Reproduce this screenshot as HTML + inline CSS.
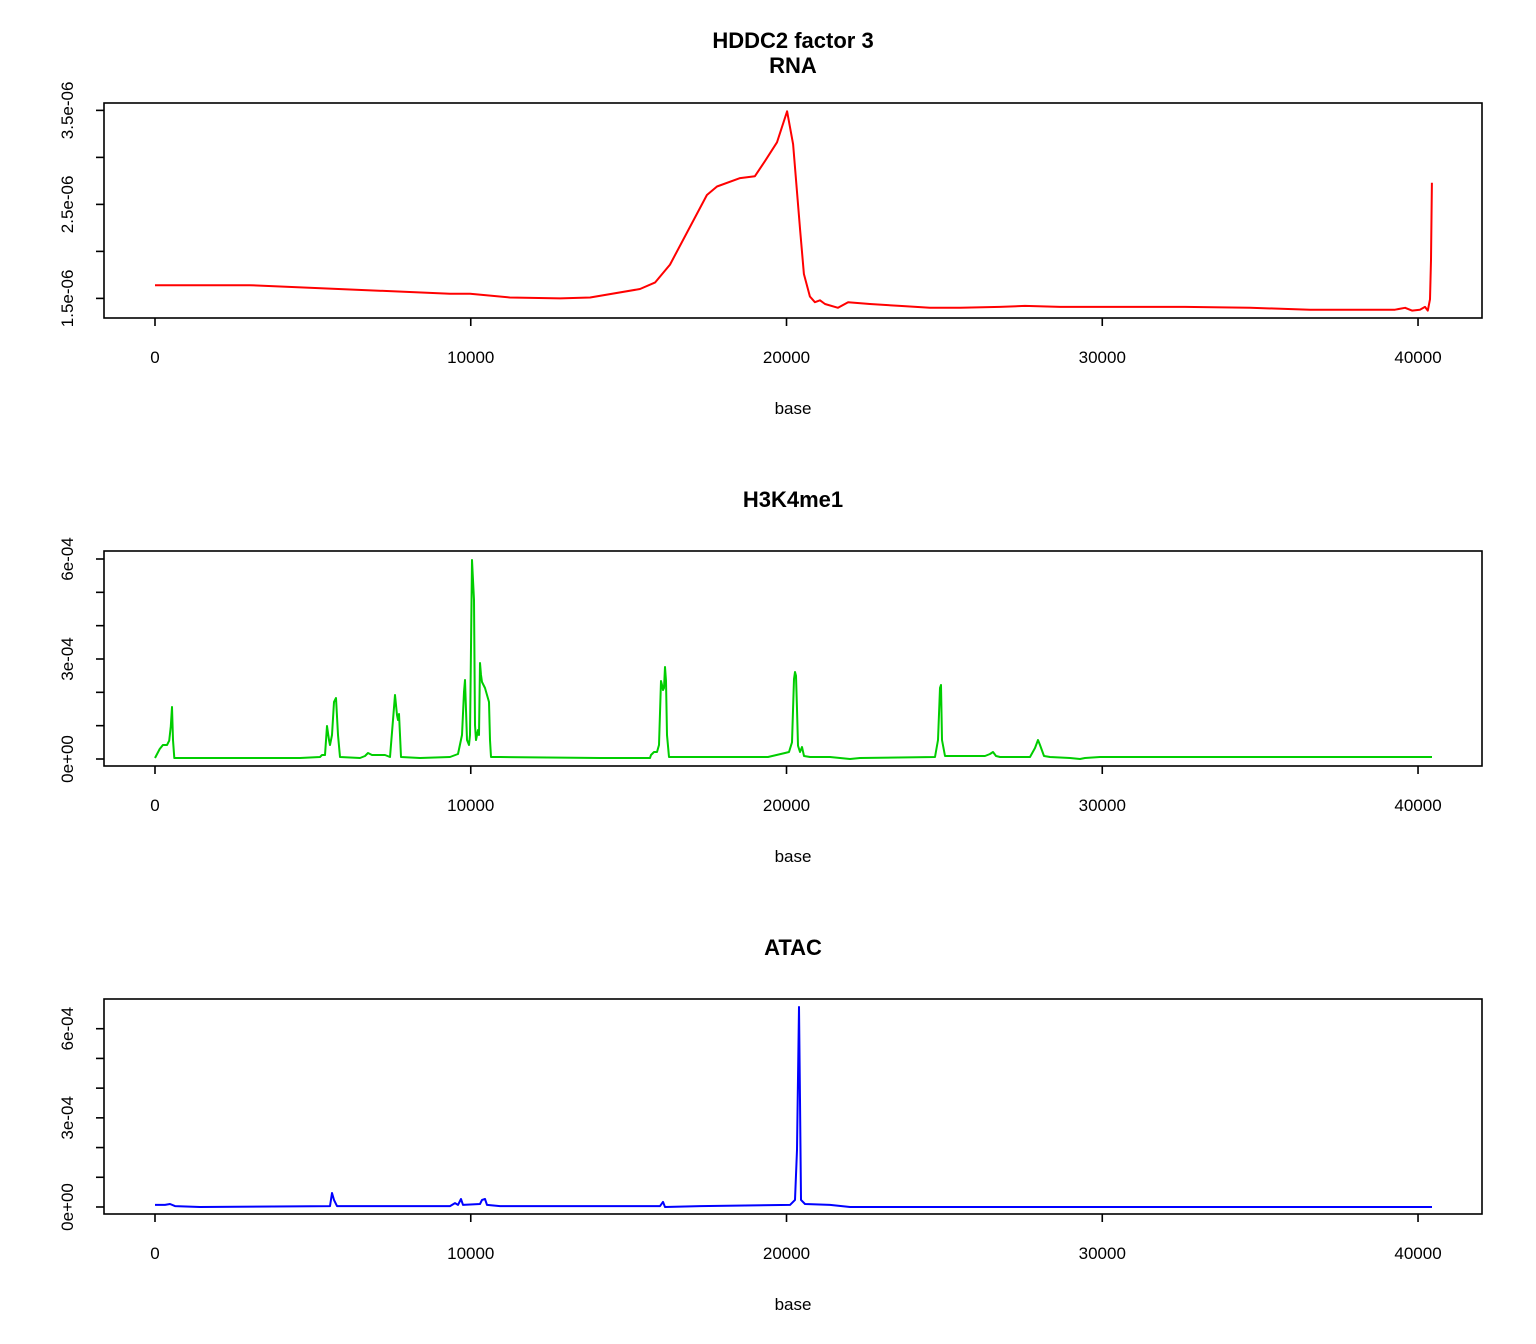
<!DOCTYPE html>
<html><head><meta charset="utf-8"><style>
html,body{margin:0;padding:0;background:#fff}
svg{display:block;font-family:"Liberation Sans",sans-serif}
</style></head><body>
<svg id="chart" width="1536" height="1344" viewBox="0 0 1536 1344">
<text x="793" y="48" text-anchor="middle" font-size="22" font-weight="bold">HDDC2 factor 3</text>
</svg>
<script>
// X axis (base)
const xTicks = [0, 10000, 20000, 30000, 40000];
// RNA series
const rnaX = [0,3000,9340,9980,11240,12830,13780,15360,15840,16310,17480,17800,18530,19000,19320,19700,20020,20210,20430,20550,20740,20900,21060,21220,21630,21950,22640,23590,24540,25500,26760,27550,28660,32620,34680,36580,38480,39270,39590,39810,40060,40220,40310,40380,40410,40440];
const rnaY = [1.64,1.64,1.55,1.55,1.51,1.50,1.51,1.60,1.67,1.86,2.60,2.69,2.78,2.80,2.96,3.16,3.49,3.14,2.23,1.76,1.52,1.46,1.48,1.44,1.40,1.46,1.44,1.42,1.40,1.40,1.41,1.42,1.41,1.41,1.40,1.38,1.38,1.38,1.40,1.37,1.38,1.41,1.37,1.49,1.91,2.73];
const rnaTicks = [1.5,2.0,2.5,3.0,3.5];
const rnaLabels = ["1.5e-06","","2.5e-06","","3.5e-06"];
// H3K4me1 series (units of 1e-4)
const h3X = [0,150,250,380,450,500,540,570,610,1425,4592,5225,5289,5384,5447,5511,5542,5606,5669,5732,5796,5859,6492,6651,6746,6872,7284,7442,7537,7601,7664,7696,7727,7759,7791,8393,9343,9596,9723,9786,9818,9881,9945,9976,10039,10071,10103,10134,10166,10198,10229,10261,10293,10324,10356,10451,10514,10578,10609,10641,10926,14093,15677,15708,15803,15898,15962,16025,16057,16088,16120,16152,16183,16215,16278,17260,18844,19414,19952,20079,20174,20237,20269,20300,20332,20364,20427,20490,20554,20744,21377,22011,22327,24703,24797,24861,24892,24924,25019,26286,26444,26539,26634,26761,27711,27869,27964,28028,28154,28344,28978,29294,29453,29928,40443];
const h3Y = [0.03,0.3,0.42,0.42,0.55,0.98,1.56,0.57,0.03,0.03,0.03,0.06,0.12,0.12,0.99,0.57,0.42,0.72,1.71,1.83,0.72,0.06,0.03,0.09,0.18,0.12,0.12,0.06,1.17,1.92,1.32,1.17,1.35,0.72,0.06,0.03,0.06,0.15,0.72,2.01,2.37,0.57,0.42,0.72,5.97,5.37,4.77,1.02,0.57,0.72,0.87,0.72,2.88,2.52,2.31,2.13,1.92,1.71,0.57,0.06,0.06,0.03,0.03,0.12,0.21,0.21,0.42,2.34,2.22,2.07,2.13,2.76,2.34,0.72,0.06,0.06,0.06,0.06,0.18,0.21,0.5,2.4,2.61,2.5,1.5,0.4,0.21,0.36,0.09,0.06,0.06,0.0,0.03,0.06,0.57,2.13,2.22,0.57,0.09,0.09,0.15,0.21,0.09,0.06,0.06,0.33,0.57,0.42,0.09,0.06,0.03,0.0,0.03,0.06,0.06];
const h3Ticks = [0,1,2,3,4,5,6];
const h3Labels = ["0e+00","","","3e-04","","","6e-04"];
// ATAC series (units of 1e-4)
const atX = [0,317,475,633,1425,5542,5606,5669,5764,9343,9501,9596,9691,9755,10293,10356,10451,10514,10926,15993,16088,16152,17260,20110,20269,20332,20395,20427,20459,20585,21377,22011,40443];
const atY = [0.07,0.07,0.10,0.03,0.0,0.03,0.47,0.24,0.03,0.03,0.13,0.07,0.27,0.07,0.10,0.24,0.27,0.07,0.03,0.03,0.17,0.0,0.03,0.07,0.24,1.92,6.73,3.6,0.24,0.10,0.07,0.0,0.0];
const atTicks = [0,1,2,3,4,5,6];
const atLabels = ["0e+00","","","3e-04","","","6e-04"];

const svg = document.getElementById('chart');
const NS = 'http://www.w3.org/2000/svg';
function mk(tag, attrs, parent){const e=document.createElementNS(NS,tag);for(const k in attrs)e.setAttribute(k,attrs[k]);(parent||svg).appendChild(e);return e;}

const X0=104, X1=1482, xMin=-1615, xMax=42026;
function xs(v){return X0+(v-xMin)/(xMax-xMin)*(X1-X0);}

function panel(key, top, title, titleOff, yMin, yMax, ticks, labels, xd, yd, color){
  const bot=top+215;
  const ys=v=>bot-(v-yMin)/(yMax-yMin)*215;
  const t=mk('text',{x:793,y:top-titleOff,'text-anchor':'middle','font-size':22,'font-weight':'bold'});
  t.textContent=title;
  
  
  const box=mk('rect',{x:X0,y:top,width:X1-X0,height:215,fill:'none',stroke:'#000','stroke-width':1.6});
  
  
  xTicks.forEach(v=>{
    const x=xs(v);
    const l=mk('line',{x1:x,x2:x,y1:bot,y2:bot+8,stroke:'#000','stroke-width':1.6});
    
    
    const tx=mk('text',{x:x,y:bot+45,'text-anchor':'middle','font-size':17});
    tx.textContent=String(v);
    
    
  });
  const xl=mk('text',{x:793,y:bot+96,'text-anchor':'middle','font-size':17});
  xl.textContent='base';
  
  
  ticks.forEach((v,i)=>{
    const y=ys(v);
    const l=mk('line',{x1:X0-8,x2:X0,y1:y,y2:y,stroke:'#000','stroke-width':1.6});
    
    
    if(labels[i]){
      const tx=mk('text',{x:0,y:0,'text-anchor':'middle','font-size':17,transform:`translate(73,${y}) rotate(-90)`});
      tx.textContent=labels[i];
      
      
    }
  });
  const pts=xd.map((v,i)=>xs(v).toFixed(1)+','+ys(yd[i]).toFixed(1)).join(' ');
  const pl=mk('polyline',{points:pts,fill:'none',stroke:color,'stroke-width':2,'stroke-linejoin':'round'});
  
  
}
panel('rna',103,'RNA',30,1.2915,3.5785,rnaTicks,rnaLabels,rnaX,rnaY,'#ff0000');
panel('h3k4me1',551,'H3K4me1',44,-0.21,6.24,h3Ticks,h3Labels,h3X,h3Y,'#00cd00');
panel('atac',999,'ATAC',44,-0.236,7.0,atTicks,atLabels,atX,atY,'#0000ff');
</script>
</body></html>
